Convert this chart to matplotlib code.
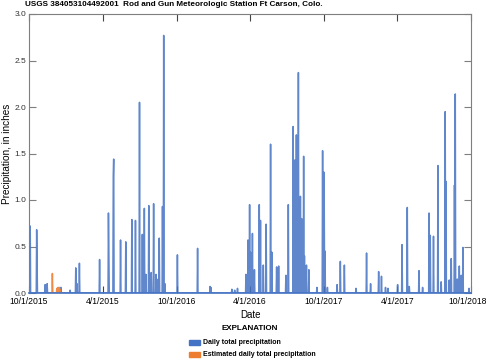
import matplotlib
matplotlib.use('Agg')
import matplotlib.pyplot as plt
import matplotlib.patches as mpatches
import numpy as np
import pandas as pd

# Daily total precipitation, in inches (days not listed are 0)
rain_dates = [
    '2015-10-02', '2015-10-03', '2015-10-04', '2015-10-20', '2015-10-21',
    '2015-11-10', '2015-11-15', '2015-12-19', '2016-01-11', '2016-01-25',
    '2016-01-28', '2016-02-03', '2016-03-24', '2016-04-15', '2016-04-16',
    '2016-04-27', '2016-04-28', '2016-05-15', '2016-05-28', '2016-06-12',
    '2016-06-21', '2016-07-01', '2016-07-08', '2016-07-13', '2016-07-17',
    '2016-07-24', '2016-07-30', '2016-08-05', '2016-08-11', '2016-08-13',
    '2016-08-19', '2016-08-27', '2016-08-30', '2016-09-02', '2016-10-03',
    '2016-11-22', '2016-12-23', '2016-12-25', '2017-02-15', '2017-02-22',
    '2017-03-01', '2017-03-22', '2017-03-27', '2017-03-31', '2017-04-02',
    '2017-04-04', '2017-04-07', '2017-04-12', '2017-04-24', '2017-04-27',
    '2017-05-04', '2017-05-11', '2017-05-22', '2017-05-25', '2017-06-06',
    '2017-06-11', '2017-06-29', '2017-07-05', '2017-07-17', '2017-07-21',
    '2017-07-25', '2017-07-30', '2017-08-04', '2017-08-07', '2017-08-12',
    '2017-08-14', '2017-08-19', '2017-08-25', '2017-09-14', '2017-09-28',
    '2017-10-01', '2017-10-02', '2017-10-04', '2017-10-10', '2017-11-03',
    '2017-11-11', '2017-11-21', '2017-12-20', '2018-01-15', '2018-01-25',
    '2018-02-14', '2018-02-21', '2018-03-03', '2018-03-09', '2018-04-02',
    '2018-04-13', '2018-04-26', '2018-05-01', '2018-05-25', '2018-06-03',
    '2018-06-19', '2018-06-22', '2018-06-30', '2018-07-11', '2018-07-19',
    '2018-07-29', '2018-07-31', '2018-08-08', '2018-08-13', '2018-08-21',
    '2018-08-23', '2018-08-28', '2018-09-02', '2018-09-07', '2018-09-11',
    '2018-09-26',
]
rain_values = [
    0.16, 0.59, 0.72, 0.68, 0.35,
    0.09, 0.10, 0.06, 0.03, 0.27,
    0.10, 0.32, 0.36, 0.86, 0.37,
    1.25, 1.44, 0.57, 0.55, 0.79,
    0.78, 2.05, 0.63, 0.91, 0.20,
    0.94, 0.22, 0.96, 0.20, 0.15,
    0.59, 0.93, 2.77, 0.10, 0.41,
    0.48, 0.07, 0.06, 0.04, 0.03,
    0.05, 0.20, 0.57, 0.95, 0.44,
    0.30, 0.64, 0.25, 0.95, 0.78,
    0.30, 0.74, 1.60, 0.44, 0.28,
    0.29, 0.19, 0.95, 1.79, 1.43,
    1.70, 2.37, 1.04, 0.80, 1.47,
    0.40, 0.30, 0.25, 0.06, 1.53,
    1.30, 1.00, 0.45, 0.06, 0.09,
    0.34, 0.30, 0.05, 0.43, 0.10,
    0.23, 0.18, 0.06, 0.05, 0.09,
    0.52, 0.92, 0.07, 0.24, 0.06,
    0.86, 0.62, 0.61, 1.37, 0.12,
    1.95, 1.20, 0.14, 0.37, 1.16,
    2.14, 0.15, 0.29, 0.19, 0.49,
    0.05,
]

# Estimated daily total precipitation
est_dates = ['2015-11-28', '2015-12-09', '2015-12-12', '2015-12-15', '2015-12-17']
est_values = [0.21, 0.05, 0.06, 0.06, 0.04]

tick_dates = ['2015-10-01', '2016-04-01', '2016-10-01', '2017-04-01',
              '2017-10-01', '2018-04-01', '2018-10-01']
tick_labels = ['10/1/2015', '4/1/2015', '10/1/2016', '4/1/2016',
               '10/1/2017', '4/1/2017', '10/1/2018']

days = pd.date_range('2015-10-01', '2018-10-01', freq='D')
rain = pd.Series(0.0, index=days)
rain[pd.to_datetime(rain_dates)] = rain_values
est_days = pd.date_range('2015-11-20', '2015-12-25', freq='D')
est = pd.Series(0.0, index=est_days)
est[pd.to_datetime(est_dates)] = est_values

blue = '#4472c4'
orange = '#ed7d31'
gray = '#7f7f7f'
plt.rcParams['font.family'] = ['Liberation Sans', 'DejaVu Sans']

fig = plt.figure(figsize=(4.86, 3.6), dpi=100)
ax = fig.add_axes([29 / 486, 67 / 360, 442 / 486, 279 / 360])

ax.plot(rain.index, rain.values, color=blue, lw=1.1, alpha=0.85)
ax.plot(est.index, est.values, color=orange, lw=1.1, alpha=0.9)

ax.set_xlim(days[0], days[-1])
ax.set_ylim(0, 3.0)
ax.set_yticks(np.arange(0, 3.01, 0.5))
ax.set_yticklabels(['%.1f' % v for v in np.arange(0, 3.01, 0.5)], fontsize=6, color='#333333')
tick_pos = pd.to_datetime(tick_dates)
ax.set_xticks(tick_pos)
# last label is drawn separately, nudged left so it stays inside the figure
ax.set_xticklabels(tick_labels[:-1] + [''], fontsize=6.2, color='black')
ax.annotate(tick_labels[-1], xy=(tick_pos[-1], 0), xycoords=('data', 'axes fraction'),
            xytext=(-2.5, -3), textcoords='offset points', ha='center', va='top',
            fontsize=6.2, color='black')

ax.tick_params(axis='both', direction='in', length=5, width=0.8, color=gray,
               top=True, right=True, pad=2)
ax.tick_params(axis='x', color='#444444', pad=3)
for s in ax.spines.values():
    s.set_color(gray)
    s.set_linewidth(0.8)
ax.spines['bottom'].set_color(blue)
ax.spines['bottom'].set_linewidth(1.2)

ax.set_ylabel('Precipitation, in inches', fontsize=7.2, labelpad=2)
ax.set_xlabel('Date', fontsize=7, labelpad=3)

fig.text(25 / 486, 1 - 5 / 360, 'USGS 384053104492001  Rod and Gun Meteorologic Station Ft Carson, Colo.',
         fontsize=5.9, fontweight='bold', ha='left', va='center')

fig.text(250 / 486, 1 - 329 / 360, 'EXPLANATION', fontsize=5.8, fontweight='bold',
         ha='center', va='center')
fig.patches.append(mpatches.Rectangle((189 / 486, 1 - 345 / 360), 11 / 486, 5 / 360,
                                      transform=fig.transFigure, color=blue, figure=fig))
fig.patches.append(mpatches.Rectangle((189 / 486, 1 - 357 / 360), 11 / 486, 5 / 360,
                                      transform=fig.transFigure, color=orange, figure=fig))
fig.text(203 / 486, 1 - 342 / 360, 'Daily total precipitation', fontsize=5,
         fontweight='bold', ha='left', va='center')
fig.text(203 / 486, 1 - 355 / 360, 'Estimated daily total precipitation', fontsize=5,
         fontweight='bold', ha='left', va='center')

fig.savefig('out.png', dpi=100)
